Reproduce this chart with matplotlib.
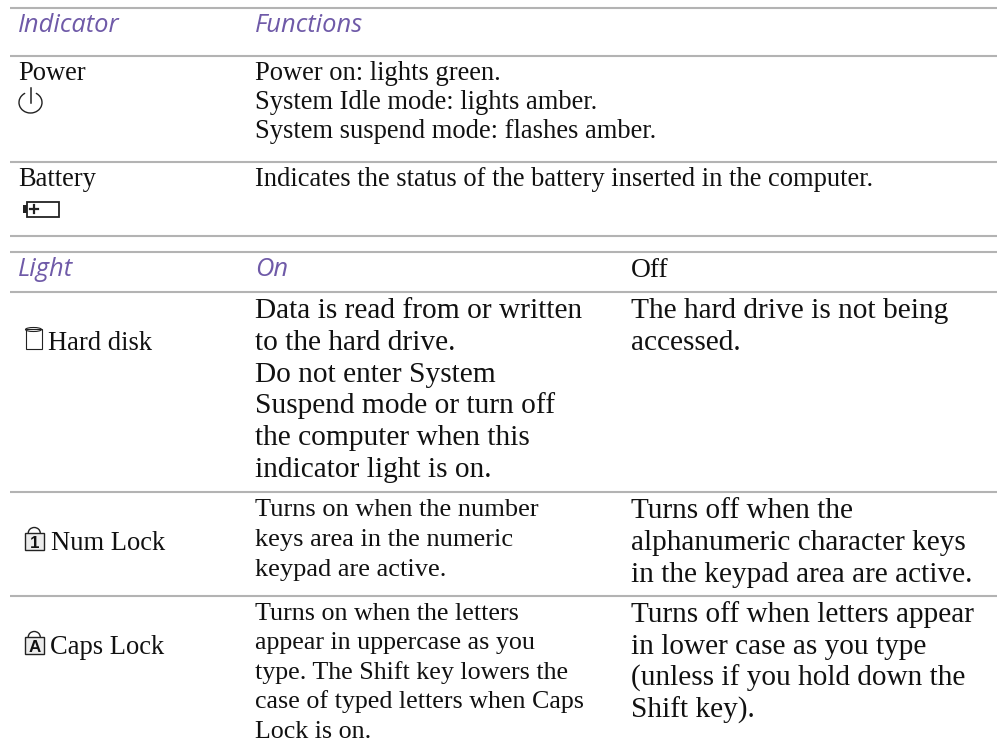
import matplotlib
matplotlib.use("Agg")
import matplotlib.pyplot as plt
from matplotlib.patches import Rectangle, Arc, Ellipse

W, H = 997, 746
SERIF = "Liberation Serif"
SANS = "Open Sans"
PURPLE = "#6f5aa8"
RULE = "#b3b3b3"
INK = "#111111"

rules_y = [8, 56, 162, 236, 252, 292, 492, 596]

headers = [(18, 32, "Indicator"), (255, 32, "Functions"), (18, 276, "Light"), (255, 276, "On")]
off_header = "Off"
body = [
    (18, 80, "Power"),
    (255, 80, "Power on: lights green."),
    (255, 109, "System Idle mode: lights amber."),
    (255, 138, "System suspend mode: flashes amber."),
    (18, 186, "Battery"),
    (255, 186, "Indicates the status of the battery inserted in the computer."),
    (48, 350, "Hard disk"),
    (51, 550, "Num Lock"),
    (50, 654, "Caps Lock"),
]
on_hd = ["Data is read from or written", "to the hard drive.", "Do not enter System",
         "Suspend mode or turn off", "the computer when this", "indicator light is on."]
off_hd = ["The hard drive is not being", "accessed."]
on_num = ["Turns on when the number", "keys area in the numeric", "keypad are active."]
off_num = ["Turns off when the", "alphanumeric character keys", "in the keypad area are active."]
on_caps = ["Turns on when the letters", "appear in uppercase as you", "type. The Shift key lowers the",
           "case of typed letters when Caps", "Lock is on."]
off_caps = ["Turns off when letters appear", "in lower case as you type", "(unless if you hold down the", "Shift key)."]

fig = plt.figure(figsize=(W / 100, H / 100), dpi=100, facecolor="white")
ax = fig.add_axes([0, 0, 1, 1])
ax.set_xlim(0, W)
ax.set_ylim(H, 0)
ax.axis("off")

for y in rules_y:
    ax.plot([10, W], [y, y], color=RULE, lw=1.5, solid_capstyle="butt")

def px(s):
    return s * 72 / 100

def serif(x, y, s, size):
    ax.text(x, y, s, family=SERIF, color=INK, fontsize=px(size), va="baseline")

for x, y, s in headers:
    ax.text(x, y, s, family=SANS, style="italic", color=PURPLE, fontsize=px(25.5), va="baseline")
serif(631, 277, off_header, 27.5)

for x, y, s in body:
    serif(x, y, s, 26.5)

def block(x, y0, lines, step, size):
    for i, s in enumerate(lines):
        serif(x, y0 + i * step, s, size)

block(255, 318, on_hd, 31.8, 29.4)
block(631, 318, off_hd, 32, 29.4)
block(255, 516, on_num, 30, 26.4)
block(631, 518, off_num, 32, 29.2)
block(255, 620, on_caps, 29.4, 26)
block(631, 622, off_caps, 32, 29.2)

k = "#222222"
# power icon
ax.add_patch(Arc((30.5, 102.5), 23, 21, theta1=-60, theta2=240, color=k, lw=1))
ax.plot([30.5, 30.5], [88, 103], color=k, lw=1.1)
# battery icon
ax.add_patch(Rectangle((26.5, 202), 32, 14.5, fc="none", ec=k, lw=1.3))
ax.add_patch(Rectangle((22.5, 205), 4, 8, fc=k, ec=k, lw=0))
ax.plot([30, 38], [209, 209], color=k, lw=1.6)
ax.plot([34, 34], [205, 213], color=k, lw=1.6)
# hard disk icon
ax.add_patch(Rectangle((25.5, 329), 16, 19.5, fc="none", ec=k, lw=0.8))
ax.add_patch(Ellipse((33.5, 329.5), 16, 4, fc="none", ec=k, lw=0.8))

def lock(x, top, glyph):
    ax.add_patch(Rectangle((x, top + 6), 19.5, 17, fc="#ececec", ec=k, lw=1))
    ax.add_patch(Arc((x + 9.75, top + 6), 12, 11, theta1=180, theta2=360, color=k, lw=1))
    ax.text(x + 9.75, top + 21, glyph, family="Liberation Sans", weight="bold",
            fontsize=px(17), color=INK, ha="center", va="baseline")

lock(24.5, 527, "1")
lock(24.5, 631, "A")

fig.savefig("out.png", dpi=100, facecolor="white")
